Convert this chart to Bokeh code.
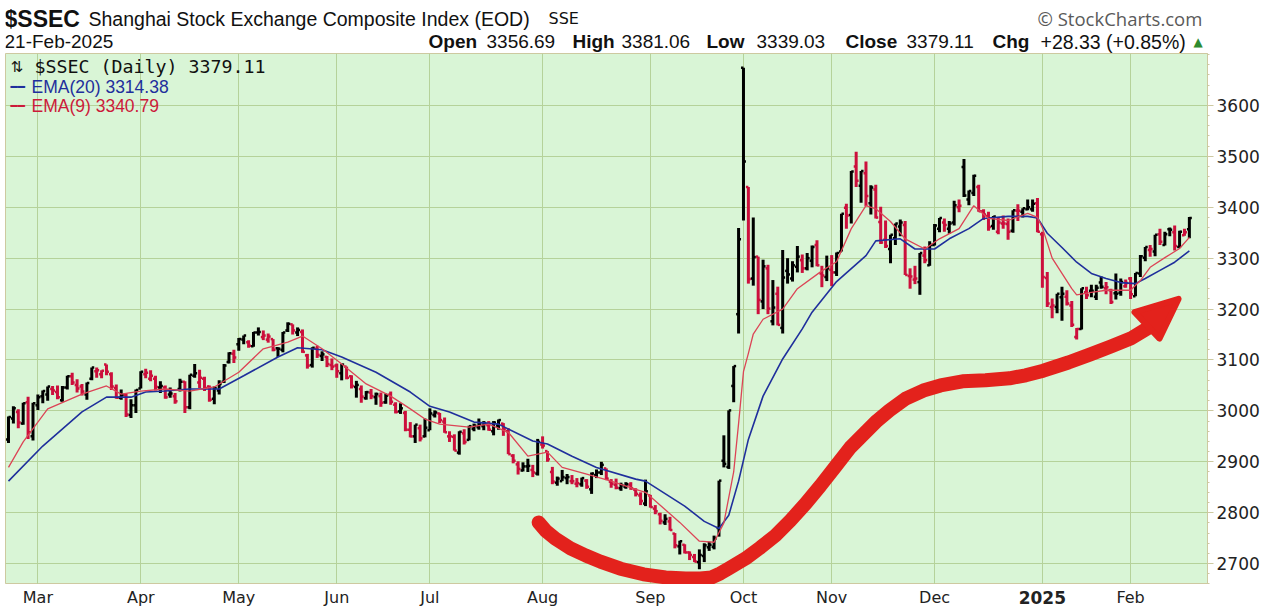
from bokeh.plotting import figure
from bokeh.models import Range1d, FixedTicker, Label
from bokeh.layouts import column
from bokeh.embed import file_html
from bokeh.resources import INLINE

# daily bars, index 0 = 22-Feb-2024 ... last = 21-Feb-2025 (trading days only)
opens = [
    2944, 2985, 2998, 2975, 3017, 2950,  # Feb
    3011, 3029, 3032, 3043, 3037, 3021, 3046, 3068, 3051, 3048, 3032, 3063, 3078, 3072, 3091, 3072, 3045, 3026, 3031, 2992, 3011,  # Mar
    3044, 3072, 3063, 3063, 3046, 3046, 3032, 3029, 3043, 3057, 3007, 3069, 3056, 3063, 3048, 3024, 3040, 3057, 3096, 3112,  # Apr
    3131, 3140, 3135, 3127, 3154, 3145, 3140, 3141, 3123, 3120, 3158, 3170, 3154, 3155, 3109, 3090, 3122, 3108, 3106, 3090,  # May
    3089, 3074, 3087, 3068, 3047, 3043, 3025, 3036, 3027, 3029, 3017, 3032, 3012, 2999, 2996, 2963, 2950, 2966, 2950,  # Jun
    2962, 2992, 2995, 2979, 2950, 2949, 2918, 2956, 2943, 2965, 2968, 2970, 2972, 2960, 2971, 2975, 2960, 2912, 2895, 2883, 2891, 2884, 2877,  # Jul
    2934, 2921, 2880, 2859, 2862, 2868, 2862, 2857, 2856, 2863, 2846, 2874, 2879, 2887, 2861, 2855, 2848, 2851, 2855, 2845, 2834, 2818,  # Aug
    2834, 2808, 2797, 2781, 2783, 2759, 2734, 2737, 2722, 2713, 2703, 2715, 2732, 2733, 2770, 2902, 2890, 3049, 3190,  # Sep
    3674, 3440, 3260, 3303, 3215, 3280, 3176, 3230, 3163, 3275, 3260, 3283, 3296, 3280, 3295, 3326, 3270, 3263,  # Oct
    3277, 3272, 3313, 3399, 3385, 3480, 3442, 3467, 3408, 3435, 3371, 3336, 3318, 3339, 3362, 3365, 3265, 3258, 3253, 3305, 3286,  # Nov
    3326, 3358, 3370, 3358, 3370, 3400, 3479, 3415, 3428, 3440, 3392, 3383, 3363, 3352, 3368, 3367, 3354, 3393, 3391, 3396, 3396, 3408,  # Dec
    3347, 3261, 3204, 3204, 3223, 3224, 3207, 3145, 3161, 3233, 3236, 3224, 3252, 3241, 3237, 3231, 3232, 3245,  # Jan
    3260, 3225, 3270, 3301, 3316, 3313, 3347, 3326, 3357, 3351, 3322, 3345, 3356.69,  # Feb
]
highs = [
    2989, 3009, 3003, 3016, 3028, 3016,
    3032, 3040, 3048, 3049, 3050, 3049, 3069, 3075, 3062, 3053, 3056, 3085, 3085, 3080, 3091, 3076, 3052, 3042, 3034, 3023, 3042,
    3078, 3083, 3080, 3069, 3058, 3050, 3046, 3035, 3063, 3058, 3071, 3092, 3081, 3067, 3050, 3048, 3060, 3092, 3115, 3120,
    3143, 3148, 3139, 3155, 3164, 3158, 3152, 3141, 3125, 3155, 3174, 3170, 3164, 3160, 3112, 3125, 3128, 3117, 3108, 3103,
    3093, 3092, 3087, 3070, 3059, 3050, 3039, 3043, 3036, 3036, 3034, 3038, 3017, 3015, 3000, 2978, 2973, 2973, 2985,
    3005, 3001, 2996, 2987, 2960, 2954, 2960, 2964, 2971, 2975, 2985, 2980, 2980, 2980, 2983, 2976, 2966, 2915, 2901, 2899, 2906, 2894, 2945,
    2950, 2921, 2890, 2871, 2884, 2876, 2874, 2868, 2869, 2866, 2879, 2885, 2900, 2887, 2866, 2867, 2859, 2860, 2860, 2848, 2840, 2865,
    2835, 2815, 2800, 2797, 2792, 2760, 2745, 2738, 2724, 2719, 2728, 2740, 2743, 2755, 2863, 2952, 3001, 3088, 3359,
    3674, 3440, 3380, 3303, 3297, 3287, 3257, 3244, 3316, 3300, 3294, 3324, 3307, 3310, 3325, 3335, 3285, 3305,
    3306, 3311, 3387, 3407, 3471, 3509, 3471, 3490, 3443, 3444, 3401, 3374, 3346, 3368, 3376, 3373, 3280, 3285, 3310, 3323, 3333,
    3367, 3379, 3378, 3373, 3413, 3415, 3495, 3433, 3464, 3444, 3396, 3391, 3383, 3381, 3384, 3378, 3394, 3406, 3398, 3415, 3415, 3418,
    3352, 3273, 3221, 3230, 3244, 3237, 3216, 3163, 3241, 3244, 3248, 3248, 3264, 3253, 3240, 3270, 3260, 3258,
    3263, 3271, 3306, 3322, 3326, 3346, 3358, 3352, 3360, 3364, 3354, 3358, 3381.06,
]
lows = [
    2937, 2975, 2966, 2973, 2945, 2942,
    3002, 3015, 3020, 3031, 3023, 3018, 3042, 3051, 3036, 3030, 3022, 3060, 3065, 3064, 3070, 3041, 3024, 3022, 2988, 2986, 2996,
    3044, 3064, 3058, 3040, 3035, 3024, 3026, 3014, 3038, 2996, 3003, 3065, 3045, 3039, 3018, 3013, 3032, 3055, 3093, 3094,
    3118, 3131, 3124, 3126, 3148, 3139, 3134, 3117, 3106, 3115, 3155, 3150, 3147, 3114, 3083, 3085, 3104, 3098, 3086, 3080,
    3065, 3060, 3062, 3044, 3026, 3016, 3022, 3023, 3012, 3008, 3014, 3012, 2995, 2994, 2960, 2948, 2937, 2940, 2948,
    2962, 2987, 2976, 2957, 2939, 2922, 2914, 2934, 2942, 2960, 2963, 2962, 2961, 2952, 2963, 2951, 2915, 2897, 2875, 2881, 2880, 2870, 2873,
    2926, 2900, 2856, 2853, 2862, 2856, 2856, 2850, 2851, 2847, 2837, 2868, 2874, 2864, 2849, 2846, 2843, 2847, 2845, 2832, 2815, 2813,
    2810, 2797, 2777, 2776, 2765, 2730, 2718, 2720, 2707, 2703, 2689, 2703, 2725, 2728, 2753, 2889, 2886, 3017, 3152,
    3374, 3250, 3246, 3190, 3200, 3190, 3168, 3168, 3152, 3250, 3254, 3272, 3271, 3276, 3282, 3284, 3243, 3255,
    3245, 3265, 3313, 3358, 3368, 3440, 3409, 3402, 3386, 3378, 3328, 3320, 3290, 3326, 3343, 3267, 3240, 3249, 3228, 3290, 3285,
    3325, 3351, 3352, 3348, 3364, 3390, 3420, 3404, 3422, 3391, 3375, 3354, 3356, 3347, 3358, 3336, 3350, 3373, 3380, 3394, 3391, 3351,
    3242, 3204, 3182, 3192, 3177, 3207, 3165, 3140, 3160, 3220, 3223, 3218, 3240, 3229, 3210, 3219, 3226, 3242,
    3220, 3225, 3263, 3294, 3303, 3304, 3326, 3325, 3343, 3315, 3320, 3344, 3339.03,
]
closes = [
    2988, 3005, 2977, 3015, 2958, 3015,
    3027, 3039, 3048, 3040, 3027, 3046, 3068, 3056, 3044, 3038, 3055, 3085, 3080, 3079, 3077, 3048, 3026, 3031, 2993, 3011, 3041,
    3077, 3075, 3069, 3047, 3049, 3027, 3034, 3019, 3057, 3007, 3071, 3074, 3065, 3045, 3022, 3045, 3053, 3089, 3113, 3105,
    3141, 3148, 3128, 3154, 3155, 3148, 3146, 3120, 3122, 3154, 3171, 3158, 3159, 3116, 3089, 3124, 3110, 3111, 3092, 3087,
    3078, 3091, 3065, 3049, 3051, 3028, 3037, 3029, 3033, 3016, 3030, 3018, 2998, 3005, 2963, 2950, 2973, 2946, 2967,
    2995, 2997, 2982, 2958, 2950, 2922, 2959, 2939, 2970, 2971, 2974, 2976, 2963, 2977, 2982, 2964, 2915, 2902, 2886, 2891, 2892, 2879, 2939,
    2932, 2905, 2861, 2867, 2870, 2870, 2862, 2858, 2868, 2851, 2877, 2879, 2894, 2867, 2857, 2849, 2854, 2856, 2848, 2837, 2823, 2842,
    2811, 2803, 2784, 2788, 2766, 2736, 2744, 2722, 2717, 2704, 2717, 2736, 2737, 2749, 2863, 2896, 3001, 3088, 3337,
    3490, 3259, 3302, 3218, 3284, 3201, 3203, 3169, 3262, 3268, 3286, 3303, 3280, 3300, 3322, 3286, 3266, 3280,
    3272, 3310, 3387, 3384, 3470, 3452, 3471, 3422, 3439, 3380, 3331, 3324, 3346, 3368, 3370, 3267, 3264, 3260, 3310, 3296, 3326,
    3364, 3379, 3365, 3368, 3404, 3403, 3423, 3432, 3462, 3392, 3386, 3361, 3382, 3370, 3368, 3352, 3394, 3393, 3398, 3400, 3407, 3352,
    3263, 3211, 3207, 3230, 3230, 3211, 3169, 3161, 3241, 3227, 3236, 3242, 3244, 3243, 3214, 3230, 3253, 3251,
    3229, 3271, 3304, 3322, 3318, 3346, 3332, 3347, 3356, 3324, 3352, 3350.78, 3379.11,
]

# moving averages (bar index, value)
ema20_x = [0, 7, 15, 20, 25, 28, 32, 37, 43, 48, 55, 59, 64, 68, 75, 82, 86, 90, 95, 100,
           107, 110, 115, 120, 128, 130, 138, 142, 145, 147, 149, 151, 154, 158, 162, 164, 169,
           175, 177, 182, 185, 189, 192, 196, 199, 204, 208, 210, 212, 215, 218, 221, 224, 227,
           230, 232, 235, 238, 241]
ema20_y = [2862, 2931, 2998, 3027, 3027, 3037, 3039, 3043, 3043, 3069, 3106, 3124, 3120, 3106,
           3076, 3037, 3009, 2998, 2978, 2974, 2941, 2935, 2911, 2889, 2866, 2862, 2813, 2783,
           2769, 2795, 2862, 2944, 3029, 3102, 3161, 3194, 3254, 3305, 3334, 3338, 3318, 3318,
           3338, 3358, 3378, 3382, 3382, 3379, 3349, 3321, 3292, 3270, 3260, 3252, 3250, 3260,
           3276, 3292, 3314.38]
ema9_x = [0, 3, 8, 15, 20, 23, 27, 32, 37, 42, 47, 52, 57, 60, 64, 68, 73, 78, 82, 85, 88, 94,
          98, 102, 106, 110, 113, 118, 123, 128, 130, 137, 141, 144, 146, 148, 149, 150, 151,
          152, 154, 158, 161, 166, 169, 172, 175, 177, 180, 183, 187, 190, 194, 197, 200, 204,
          208, 210, 211, 212, 213, 215, 217, 218, 221, 224, 227, 229, 231, 233, 236, 239, 241]
ema9_y = [2889, 2939, 3004, 3033, 3049, 3033, 3039, 3043, 3039, 3047, 3076, 3122, 3135, 3147,
          3122, 3092, 3053, 3029, 3004, 2984, 2974, 2968, 2974, 2958, 2911, 2919, 2889, 2876,
          2862, 2846, 2840, 2781, 2744, 2742, 2780, 2880, 2975, 3077, 3113, 3151, 3180, 3200,
          3240, 3275, 3293, 3358, 3403, 3397, 3372, 3338, 3318, 3338, 3358, 3403, 3378, 3374,
          3388, 3380, 3360, 3330, 3300, 3270, 3240, 3228, 3233, 3237, 3237, 3237, 3256, 3282,
          3301, 3319, 3340.79]

# hand-drawn red arrow (bar index, price)
arrow_x = [108.2, 109.6, 111.6, 114.7, 117.8, 120.8, 124.9, 129.6, 134.1, 138.2, 141.2, 143.5,
           145.3, 146.9, 150.4, 153.5, 156.5, 159.6, 162.7, 165.7, 168.8, 171.8, 174.7, 177.3,
           179.8, 183.1, 186.7, 190.2, 194.7, 199.4, 204.3, 207.6, 211.2, 216.3, 220.8, 225.1,
           229.0, 232.4]
arrow_y = [2781, 2765, 2749, 2730, 2716, 2704, 2690, 2679, 2673, 2671, 2671, 2673, 2681, 2690,
           2710, 2732, 2755, 2785, 2818, 2853, 2891, 2928, 2956, 2981, 3001, 3024, 3040, 3050,
           3058, 3060, 3064, 3070, 3079, 3095, 3111, 3127, 3142, 3162]
head_x = [229.8, 238.8, 234.9]
head_y = [3194, 3220, 3142]

month_starts = [6, 27, 47, 67, 86, 109, 131, 150, 168, 189, 211, 229]
month_labels = ["Mar", "Apr", "May", "Jun", "Jul", "Aug", "Sep", "Oct", "Nov", "Dec", "2025", "Feb"]
price_ticks = [2700, 2800, 2900, 3000, 3100, 3200, 3300, 3400, 3500, 3600]

UP = "#000000"
DOWN = "#cc0f3c"
TAN = "#cdc9a0"
W = 1267

# ---- header strip ----
head = figure(width=W, height=53, x_range=Range1d(0, W), y_range=Range1d(0, 53),
              toolbar_location=None, output_backend="svg", x_axis_location=None,
              y_axis_location=None, min_border_left=0, min_border_right=0,
              min_border_top=0, min_border_bottom=0, outline_line_color=None)
head.grid.visible = False


def htxt(s, px, py, size, font="Liberation Sans", style="normal", color="#111111"):
    # px = left edge, py = vertical centre of the text, page pixels from the top
    head.add_layout(Label(x=px - 6, y=53 - py, x_units="screen", y_units="screen", text=s,
                          text_font=font, text_font_size=f"{size}px", text_font_style=style,
                          text_color=color, text_align="left", text_baseline="middle"))


chg = closes[-1] - closes[-2]
pct = chg / closes[-2] * 100

htxt("$SSEC", 5, 18, 23, style="bold")
htxt("Shanghai Stock Exchange Composite Index (EOD)", 89, 18, 19.5)
htxt("SSE", 549, 18, 16, font="DejaVu Sans")
htxt("\u00a9 StockCharts.com", 1038, 18, 18.5, font="Open Sans", color="#5a5a5a")
htxt("21-Feb-2025", 5, 41, 19)
htxt("Open", 429, 41, 19, style="bold")
htxt(f"{opens[-1]:.2f}", 487, 41, 19)
htxt("High", 573, 41, 19, style="bold")
htxt(f"{highs[-1]:.2f}", 622, 41, 19)
htxt("Low", 707, 41, 19, style="bold")
htxt(f"{lows[-1]:.2f}", 757, 41, 19)
htxt("Close", 846, 41, 19, style="bold")
htxt(f"{closes[-1]:.2f}", 907, 41, 19)
htxt("Chg", 993, 41, 19, style="bold")
htxt(f"{chg:+.2f} ({pct:+.2f}%)", 1041, 41, 19.5)
htxt("\u25b2", 1194, 41, 12, font="DejaVu Sans", color="#2e8b2e")

# ---- price chart ----
p = figure(width=W, height=531, x_range=Range1d(-0.61, 244.7), y_range=Range1d(2659, 3702),
           x_axis_location=None, y_axis_location="right", toolbar_location=None,
           output_backend="svg", min_border_left=5, min_border_right=60, min_border_top=0,
           min_border_bottom=0, background_fill_color="#d9f5d6", border_fill_color="white")
p.outline_line_color = TAN

p.xgrid.ticker = FixedTicker(ticks=month_starts)
p.ygrid.ticker = FixedTicker(ticks=price_ticks)
p.grid.grid_line_color = "#b5d29a"

ya = p.yaxis[0]
ya.ticker = FixedTicker(ticks=price_ticks, minor_ticks=list(range(2660, 3702, 20)))
ya.major_label_text_font = "DejaVu Sans"
ya.major_label_text_font_size = "17px"
ya.major_label_text_color = "#222222"
ya.major_label_standoff = 3
ya.major_tick_out = 6
ya.major_tick_in = 0
ya.minor_tick_out = 2
ya.minor_tick_in = 0
ya.axis_line_color = TAN
ya.major_tick_line_color = TAN
ya.minor_tick_line_color = TAN

# OHLC bars
xs = list(range(len(closes)))
colors = [UP if (closes[i] >= (closes[i - 1] if i else opens[i])) else DOWN for i in xs]
p.segment(x0=xs, y0=lows, x1=xs, y1=highs, line_color=colors, line_width=3)
p.segment(x0=[x - 0.5 for x in xs], y0=opens, x1=xs, y1=opens, line_color=colors, line_width=2.5)
p.segment(x0=xs, y0=closes, x1=[x + 0.5 for x in xs], y1=closes, line_color=colors, line_width=2.5)

p.line(ema20_x, ema20_y, line_color="#1f2f9c", line_width=1.6)
p.line(ema9_x, ema9_y, line_color="#dc4456", line_width=1.3)

# red annotation arrow
p.line(arrow_x, arrow_y, line_color="#e3221c", line_width=14, line_cap="round", line_join="round")
p.patch(head_x, head_y, fill_color="#e3221c", line_color="#e3221c", line_width=6, line_join="round")


def ptxt(s, px, py, size, font="Liberation Sans", color="#111111"):
    # py = vertical centre of the text, page pixels from the top
    p.add_layout(Label(x=px - 5, y=584 - py, x_units="screen", y_units="screen", text=s,
                       text_font=font, text_font_size=f"{size}px", text_color=color,
                       text_baseline="middle"))


ptxt("\u21c5", 10, 66, 15, font="DejaVu Sans")
ptxt(f"$SSEC (Daily) {closes[-1]:.2f}", 34, 66, 18.3, font="DejaVu Sans Mono")
ptxt("\u2501\u2501", 10, 86, 12, font="DejaVu Sans", color="#1f2f9c")
ptxt(f"EMA(20) {ema20_y[-1]:.2f}", 31, 86, 17.5, color="#1f2f9c")
ptxt("\u2501\u2501", 10, 105, 12, font="DejaVu Sans", color="#cc1a3a")
ptxt(f"EMA(9) {ema9_y[-1]:.2f}", 31, 105, 17.5, color="#cc1a3a")

# ---- time axis labels ----
foot = figure(width=W, height=25, x_range=p.x_range, y_range=Range1d(0, 25),
              toolbar_location=None, output_backend="svg", x_axis_location=None,
              y_axis_location=None, min_border_left=5, min_border_right=60, min_border_top=0,
              min_border_bottom=0, outline_line_color=None)
foot.grid.visible = False
for m, lab in zip(month_starts, month_labels):
    bold = lab.isdigit()
    foot.add_layout(Label(x=m, y=12, x_units="data", y_units="screen", text=lab,
                          text_font="DejaVu Sans", text_font_size="17px" if bold else "16px",
                          text_font_style="bold" if bold else "normal", text_color="#222222",
                          text_align="center", text_baseline="middle"))

open("out.html", "w").write(file_html(column(head, p, foot, spacing=0), INLINE))
